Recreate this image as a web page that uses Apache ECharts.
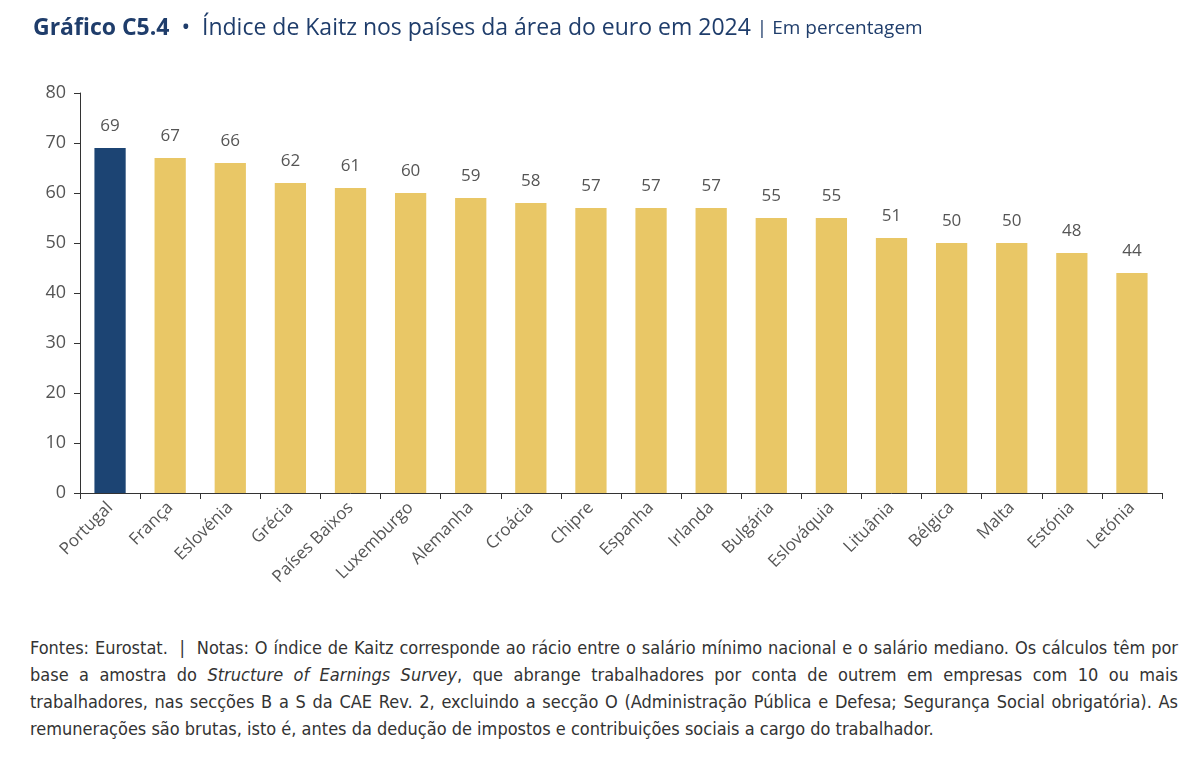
<!DOCTYPE html>
<html>
<head>
<meta charset="utf-8">
<script src="https://cdn.jsdelivr.net/npm/echarts@6/dist/echarts.min.js"></script>
<style>
  body { margin: 0; background: #fff; }
  #chart { width: 1200px; height: 620px; }
  #nota { position: absolute; left: 30px; top: 634px; width: 1148px; font-family: "Liberation Sans Narrow", "DejaVu Sans Condensed", sans-serif;
          font-size: 18px; line-height: 27px; color: #333; text-align: justify; }
</style>
</head>
<body>
<div id="chart"></div>
<div id="nota">Fontes: Eurostat. &nbsp;|&nbsp; Notas: O índice de Kaitz corresponde ao rácio entre o salário mínimo nacional e o salário mediano. Os cálculos têm por base a amostra do <i>Structure of Earnings Survey</i>, que abrange trabalhadores por conta de outrem em empresas com 10 ou mais trabalhadores, nas secções B a S da CAE Rev. 2, excluindo a secção O (Administração Pública e Defesa; Segurança Social obrigatória). As remunerações são brutas, isto é, antes da dedução de impostos e contribuições sociais a cargo do trabalhador.</div>
<script>
// países e índice de Kaitz (%)
let paises = ['Portugal','França','Eslovénia','Grécia','Países Baixos','Luxemburgo','Alemanha','Croácia','Chipre','Espanha','Irlanda','Bulgária','Eslováquia','Lituânia','Bélgica','Malta','Estónia','Letónia'];
let valores = [69,67,66,62,61,60,59,58,57,57,57,55,55,51,50,50,48,44];
let destaque = 'Portugal';

let myChart = echarts.init(document.getElementById('chart'));
let option = {
    textStyle: { fontFamily: 'Open Sans' },
    title: {
        left: 28, top: 12,
        text: '{a|Gráfico C5.4}{b|  •  Índice de Kaitz nos países da área do euro em 2024 }{c|| Em percentagem}',
        textStyle: {
            rich: {
                a: { fontSize: 23, fontWeight: 'bold', color: '#1f3d6b', fontFamily: 'Open Sans' },
                b: { fontSize: 23, fontWeight: 'normal', color: '#1f3d6b', fontFamily: 'Open Sans' },
                c: { fontSize: 19, fontWeight: 'normal', color: '#1f3d6b', fontFamily: 'Open Sans' }
            }
        }
    },
    grid: { left: 80, right: 38, top: 93, bottom: 127 },
    xAxis: {
        type: 'category',
        data: paises,
        axisLine: { lineStyle: { color: '#333' } },
        axisTick: { show: true, length: 6, lineStyle: { color: '#333' } },
        axisLabel: { rotate: 45, color: '#555', fontSize: 17, margin: 12, interval: 0 }
    },
    yAxis: {
        type: 'value', min: 0, max: 80, interval: 10,
        axisLine: { show: true, lineStyle: { color: '#333' } },
        axisTick: { show: true, length: 6, lineStyle: { color: '#333' } },
        splitLine: { show: false },
        axisLabel: { color: '#555', fontSize: 18, margin: 14 }
    },
    series: [{
        type: 'bar',
        barWidth: '52%',
        data: valores.map((v, i) => ({
            value: v,
            itemStyle: { color: paises[i] === destaque ? '#1c4473' : '#e9c766' }
        })),
        label: { show: true, position: 'top', distance: 13, color: '#555', fontSize: 17 }
    }]
};
myChart.setOption(option);
</script>
</body>
</html>
